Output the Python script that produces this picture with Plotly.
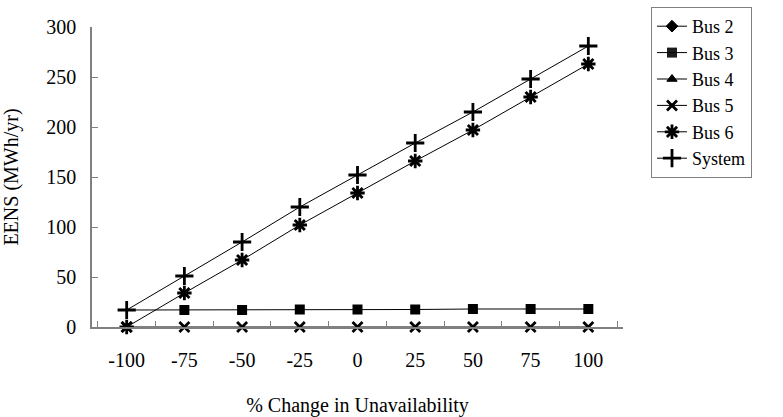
import plotly.graph_objects as go

categories = ["-100", "-75", "-50", "-25", "0", "25", "50", "75", "100"]
bus2 = [None] * 9
bus3 = [17, 17, 17, 17.5, 17.5, 17.5, 18, 18, 18]
bus4 = [None] * 9
bus5 = [0, 0, 0, 0, 0, 0, 0, 0, 0]
bus6 = [0, 34, 67, 102, 134, 166, 197, 230, 263]
system = [17, 51, 85, 120, 152, 184, 215, 248, 281]

FONT = "Liberation Serif"
GRAY = "#808080"

fig = go.Figure()

def add(name, y, symbol, size, lw=1, opac=None):
    fig.add_trace(go.Scatter(
        x=categories, y=y, name=name, mode="lines+markers",
        line=dict(color="black", width=1),
        cliponaxis=False,
        marker=dict(symbol=symbol, size=size, color="black",
                    opacity=opac if opac else 1,
                    line=dict(color="black", width=lw)),
    ))

add("Bus 2", bus2, "diamond", 9)
add("Bus 3", bus3, "square", 10, lw=0, opac=[0] + [1] * 8)
add("Bus 4", bus4, "triangle-up", 9)
add("Bus 5", bus5, "x-thin-open", 10, lw=2.8)
add("Bus 6", bus6, "asterisk-open", 12, lw=2.8)
add("System", system, "cross-thin-open", 13, lw=2.8)

fig.update_layout(
    width=783, height=417,
    margin=dict(l=92, r=160, t=27, b=90, autoexpand=False),
    paper_bgcolor="white", plot_bgcolor="white",
    font=dict(family=FONT, size=20, color="black"),
    showlegend=True,
    legend=dict(
        x=(651 - 92) / 531, y=1 + 20 / 300, xanchor="left", yanchor="top",
        bordercolor=GRAY, borderwidth=1, bgcolor="white",
        font=dict(family=FONT, size=18, color="black"),
        tracegroupgap=0,
    ),
    xaxis=dict(
        type="category", tickson="boundaries", ticks="inside", ticklen=6,
        tickcolor=GRAY, showline=True, linecolor=GRAY, linewidth=1.5,
        showgrid=False, zeroline=False, ticklabelstandoff=14, automargin=False,
        title=dict(text="% Change in Unavailability", standoff=36,
                   font=dict(family=FONT, size=20)),
    ),
    yaxis=dict(
        range=[0, 300], dtick=50, ticks="inside", ticklen=6,
        tickcolor=GRAY, showline=True, linecolor=GRAY, linewidth=1.5,
        showgrid=False, zeroline=False, ticklabelstandoff=10, automargin=False,
        title=dict(text="EENS (MWh/yr)", standoff=25,
                   font=dict(family=FONT, size=20)),
    ),
)

fig.write_html("out.html")
